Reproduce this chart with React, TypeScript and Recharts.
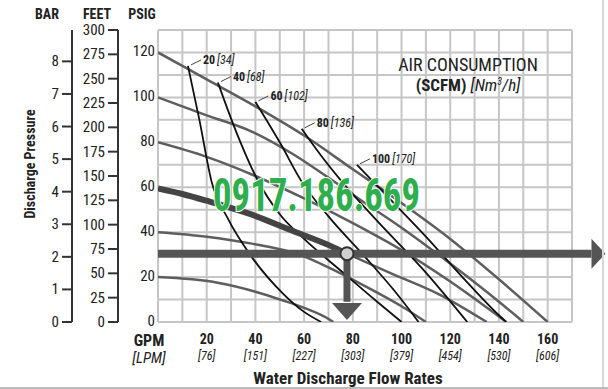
import React from 'react';
import {
  ComposedChart,
  Line,
  XAxis,
  YAxis,
  CartesianGrid,
  ReferenceLine,
  ReferenceDot,
} from 'recharts';

// axis ticks
const gpmTicks = [0, 10, 20, 30, 40, 50, 60, 70, 80, 90, 100, 110, 120, 130, 140, 150, 160, 170];
const lpmLabels: Record<number, string> = { 20: '76', 40: '151', 60: '227', 80: '303', 100: '379', 120: '454', 140: '530', 160: '606' };
const psiTicks = [0, 10, 20, 30, 40, 50, 60, 70, 80, 90, 100, 110, 120, 130];
const feetTicks = [0, 25, 50, 75, 100, 125, 150, 175, 200, 225, 250, 275, 300];
const barTicks = [0, 1, 2, 3, 4, 5, 6, 7, 8];

// inlet air pressure curves (gpm, psi)
const psi120 = [
  { gpm: 0, psi: 120 }, { gpm: 20, psi: 108 }, { gpm: 40, psi: 96 }, { gpm: 60, psi: 83 },
  { gpm: 80, psi: 68 }, { gpm: 100, psi: 53 }, { gpm: 120, psi: 37 }, { gpm: 140, psi: 19 }, { gpm: 160, psi: 0 },
];
const psi100 = [
  { gpm: 0, psi: 100 }, { gpm: 20, psi: 92 }, { gpm: 38, psi: 85 }, { gpm: 55, psi: 75 }, { gpm: 69, psi: 65 },
  { gpm: 85, psi: 53 }, { gpm: 100, psi: 42 }, { gpm: 120, psi: 26 }, { gpm: 140, psi: 9 }, { gpm: 150, psi: 0 },
];
const psi80 = [
  { gpm: 0, psi: 80 }, { gpm: 20, psi: 73.5 }, { gpm: 40, psi: 65 }, { gpm: 60, psi: 55 },
  { gpm: 80, psi: 44 }, { gpm: 100, psi: 32 }, { gpm: 120, psi: 18 }, { gpm: 143, psi: 0 },
];
const psi60 = [
  { gpm: 0, psi: 59.5 }, { gpm: 10, psi: 57 }, { gpm: 20, psi: 54 }, { gpm: 38, psi: 48 },
  { gpm: 55.5, psi: 40.5 }, { gpm: 70.6, psi: 34 }, { gpm: 77.6, psi: 30.4 },
];
const psi60Tail = [
  { gpm: 77.6, psi: 30.4 }, { gpm: 95, psi: 22 }, { gpm: 116, psi: 12 }, { gpm: 135, psi: 0 },
];
const psi40 = [
  { gpm: 0, psi: 40 }, { gpm: 20, psi: 38 }, { gpm: 38, psi: 35 }, { gpm: 58, psi: 30 },
  { gpm: 70.6, psi: 24 }, { gpm: 85, psi: 16 }, { gpm: 100, psi: 7 }, { gpm: 110, psi: 0 },
];
const psi20 = [
  { gpm: 0, psi: 20 }, { gpm: 24, psi: 17.6 }, { gpm: 40, psi: 13.5 }, { gpm: 51, psi: 9.7 },
  { gpm: 60, psi: 6.3 }, { gpm: 69, psi: 2 }, { gpm: 72, psi: 0 },
];

// air consumption curves (gpm, psi)
const air20 = [
  { gpm: 12.3, psi: 114 }, { gpm: 17, psi: 90 }, { gpm: 22, psi: 62.5 }, { gpm: 28.7, psi: 46 },
  { gpm: 37.8, psi: 30 }, { gpm: 51, psi: 13 }, { gpm: 60, psi: 4.5 }, { gpm: 67, psi: 0 },
];
const air40 = [
  { gpm: 24.6, psi: 106.6 }, { gpm: 32, psi: 85 }, { gpm: 41, psi: 63 }, { gpm: 50, psi: 48 },
  { gpm: 60, psi: 37 }, { gpm: 76, psi: 22 }, { gpm: 90, psi: 9 }, { gpm: 100, psi: 0 },
];
const air60 = [
  { gpm: 40, psi: 98 }, { gpm: 50, psi: 80 }, { gpm: 59, psi: 62.5 }, { gpm: 70, psi: 47 },
  { gpm: 85, psi: 29 }, { gpm: 97, psi: 14 }, { gpm: 107, psi: 0 },
];
const air80 = [
  { gpm: 59, psi: 86 }, { gpm: 67, psi: 74 }, { gpm: 75.5, psi: 62.5 }, { gpm: 90, psi: 45 },
  { gpm: 110, psi: 22 }, { gpm: 127, psi: 0 },
];
const air100 = [
  { gpm: 81.7, psi: 70 }, { gpm: 95, psi: 55 }, { gpm: 110, psi: 38 }, { gpm: 125, psi: 20 },
  { gpm: 140, psi: 3 }, { gpm: 143, psi: 0 },
];
const airCurves = [air20, air40, air60, air80, air100];
const airScfm = ['20', '40', '60', '80', '100'];
const airNm3 = ['34', '68', '102', '136', '170'];

// operating point
const opGpm = 77.6;
const opPsi = 30.4;

const FONT = "'Liberation Sans Narrow', 'Roboto Condensed', Roboto, Arial, sans-serif";
const GRAY = '#5e5e5e';
const DARK = '#111';
// left axes are stacked by id: a_ innermost
const PSI = 'a_psi';
const FT = 'b_ft';
const BAR = 'c_bar';

function GpmTick({ x, y, payload }: any) {
  const v = payload.value;
  if (v === 0) {
    return (
      <g fontFamily={FONT} fill="#222">
        <text x={x - 9} y={y + 22} textAnchor="middle" fontSize={16} fontWeight="bold">GPM</text>
        <text x={x - 9} y={y + 39} textAnchor="middle" fontSize={15} fontStyle="italic">[LPM]</text>
      </g>
    );
  }
  if (!lpmLabels[v]) return null;
  return (
    <g fontFamily={FONT} fill="#222">
      <text x={x} y={y + 20} textAnchor="middle" fontSize={14} fontWeight="bold">{v}</text>
      <text x={x} y={y + 36} textAnchor="middle" fontSize={12} fontStyle="italic">[{lpmLabels[v]}]</text>
    </g>
  );
}

function PsiTick({ x, y, payload }: any) {
  const v = payload.value;
  if (v % 20 !== 0 || v > 120) return null;
  return (
    <text x={x} y={y + 4} textAnchor="end" fontSize={15} fontFamily={FONT} fill="#222">{v}</text>
  );
}

function SideTick({ x, y, payload }: any) {
  return (
    <text x={x} y={y + 5} textAnchor="end" fontSize={15} fontFamily={FONT} fill="#222">{payload.value}</text>
  );
}

function AirLabel(i: number) {
  return (props: any) => {
    const { cx, cy } = props;
    return (
      <g fontFamily={FONT} fill="#222">
        <line x1={cx + 3} y1={cy - 1} x2={cx + 13} y2={cy - 6} stroke="#444" strokeWidth={1} />
        <text x={cx + 15} y={cy - 2}>
          <tspan fontSize={12} fontWeight="bold">{airScfm[i]}</tspan>
          <tspan fontSize={12} fontStyle="italic" dx={2}>[{airNm3[i]}]</tspan>
        </text>
      </g>
    );
  };
}

function ArrowRight(props: any) {
  const { cx, cy } = props;
  return <path d={`M${cx},${cy - 15} L${cx + 14},${cy} L${cx},${cy + 15} Z`} fill="#555" />;
}

function ArrowDown(props: any) {
  const { cx, cy } = props;
  return <path d={`M${cx - 15},${cy} L${cx + 15},${cy} L${cx},${cy + 17} Z`} fill="#555" />;
}

export default function App() {
  return (
    <div style={{ position: 'relative', width: 608, height: 389, background: '#fff', overflow: 'hidden' }}>
      <style>{'body{margin:0}'}</style>
      <ComposedChart width={608} height={389} margin={{ top: 30, right: 36, left: 40, bottom: 17 }}>
        <CartesianGrid yAxisId={PSI} stroke="#c6c6c6" strokeWidth={2} />
        <XAxis
          dataKey="gpm"
          type="number"
          domain={[0, 170]}
          allowDataOverflow
          ticks={gpmTicks}
          interval={0}
          tick={<GpmTick />}
          tickLine={false}
          axisLine={false}
          tickSize={0}
          height={50}
        />
        <YAxis
          yAxisId={PSI}
          type="number"
          domain={[0, 130]}
          allowDataOverflow
          ticks={psiTicks}
          interval={0}
          tick={<PsiTick />}
          tickLine={false}
          axisLine={false}
          tickSize={0}
          tickMargin={3}
          width={40}
        />
        <YAxis
          yAxisId={FT}
          type="number"
          domain={[0, 300]}
          allowDataOverflow
          ticks={feetTicks}
          interval={0}
          tick={<SideTick />}
          tickLine={{ stroke: '#333', strokeWidth: 2 }}
          axisLine={{ stroke: '#333', strokeWidth: 2 }}
          tickSize={10}
          tickMargin={3}
          width={46}
        />
        <YAxis
          yAxisId={BAR}
          type="number"
          domain={[0, 130 / 14.5038]}
          allowDataOverflow
          ticks={barTicks}
          interval={0}
          tick={<SideTick />}
          tickLine={{ stroke: '#333', strokeWidth: 2 }}
          axisLine={{ stroke: '#333', strokeWidth: 2 }}
          tickSize={10}
          tickMargin={3}
          width={32}
        />

        {[psi120, psi100, psi80, psi60Tail, psi40, psi20].map((d, i) => (
          <Line key={`p${i}`} yAxisId={PSI} data={d} dataKey="psi" type="monotone" stroke={GRAY}
            strokeWidth={2.5} dot={false} isAnimationActive={false} />
        ))}
        {airCurves.map((d, i) => (
          <Line key={`a${i}`} yAxisId={PSI} data={d} dataKey="psi" type="monotone" stroke={DARK}
            strokeWidth={1.8} dot={false} isAnimationActive={false} />
        ))}
        <Line yAxisId={PSI} data={psi60} dataKey="psi" type="monotone" stroke="#444"
          strokeWidth={6} dot={false} isAnimationActive={false} />

        {airCurves.map((d, i) => (
          <ReferenceDot key={`l${i}`} yAxisId={PSI} x={d[0].gpm} y={d[0].psi} ifOverflow="visible" shape={AirLabel(i)} />
        ))}

        <ReferenceLine yAxisId={PSI} segment={[{ x: 0, y: opPsi }, { x: 178, y: opPsi }]}
          stroke="#555" strokeWidth={8} ifOverflow="visible" />
        <ReferenceDot yAxisId={PSI} x={178} y={opPsi} ifOverflow="visible" shape={ArrowRight} />
        <ReferenceLine yAxisId={PSI} segment={[{ x: opGpm, y: opPsi }, { x: opGpm, y: 9 }]}
          stroke="#555" strokeWidth={7} ifOverflow="visible" />
        <ReferenceDot yAxisId={PSI} x={opGpm} y={8.5} ifOverflow="visible" shape={ArrowDown} />
        <ReferenceDot yAxisId={PSI} x={opGpm} y={opPsi} r={6.5} fill="#cfcfcf" stroke="#333" strokeWidth={2} ifOverflow="visible" />
      </ComposedChart>

      <svg width={608} height={389} style={{ position: 'absolute', left: 0, top: 0, pointerEvents: 'none' }}>
        <g fontFamily={FONT} fill="#222" fontWeight="bold" fontSize={14}>
          <text x={47} y={19} textAnchor="middle">BAR</text>
          <text x={97} y={19} textAnchor="middle">FEET</text>
          <text x={142} y={19} textAnchor="middle">PSIG</text>
          <text x={35} y={164} textAnchor="middle" transform="rotate(-90 35 164)" fontSize={14}>Discharge Pressure</text>
          <text x={348} y={384} textAnchor="middle" fontSize={17}>Water Discharge Flow Rates</text>
        </g>
        <g fontFamily={FONT} fill="#222">
          <text x={468} y={71} textAnchor="middle" fontSize={18}>AIR CONSUMPTION</text>
          <text x={468} y={91} textAnchor="middle" fontSize={17}>
            <tspan fontWeight="bold">(SCFM)</tspan>
            <tspan fontStyle="italic" dx={4}>[Nm</tspan>
            <tspan fontStyle="italic" fontSize={10} dy={-6}>3</tspan>
            <tspan fontStyle="italic" dy={6}>/h]</tspan>
          </text>
        </g>
        <text x={213} y={211} textLength={207} lengthAdjust="spacingAndGlyphs" fontFamily={FONT}
          fontWeight="bold" fontSize={46} fill="#2fae4e" stroke="#fff" strokeWidth={2} paintOrder="stroke">
          0917.186.669
        </text>
        <line x1={603} y1={0} x2={603} y2={389} stroke="#d8d8d8" strokeWidth={2} />
        <line x1={0} y1={388} x2={608} y2={388} stroke="#bbb" strokeWidth={2} />
      </svg>
    </div>
  );
}
